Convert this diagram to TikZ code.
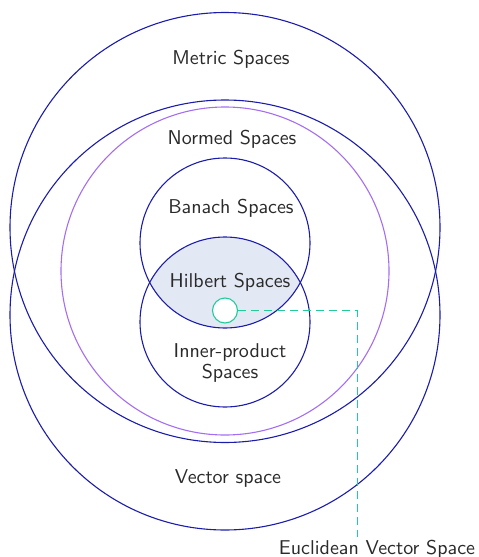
\documentclass[tikz,border=0pt]{standalone}
\usepackage{xcolor}
\definecolor{ringblue}{HTML}{1C1CAA}
\definecolor{ringviolet}{HTML}{A56EF2}
\definecolor{hilbertfill}{HTML}{E3E9F4}
\definecolor{eucl}{HTML}{22CC99}
\definecolor{txt}{HTML}{2A2A2A}
\begin{document}
\begin{tikzpicture}[x=0.5pt,y=-0.5pt,
  ring/.style={circle, draw=ringblue, line width=0.55pt, inner sep=0pt, minimum size=#1},
  vring/.style={circle, draw=ringviolet, line width=0.55pt, inner sep=0pt, minimum size=#1},
  lbl/.style={font=\sffamily, text=txt, align=center, inner sep=1pt},
  link/.style={draw=eucl, dashed, dash pattern=on 4pt off 2.5pt, line width=0.5pt}]
\useasboundingbox (0,0) rectangle (478,557);
% Hilbert spaces: overlap of the Banach and inner-product discs
\begin{scope}
  \clip (225,243) circle [radius=42.5pt];
  \fill[hilbertfill] (225,322) circle [radius=42.5pt];
\end{scope}
\node[ring=215pt] (metric) at (225,227.5) {};
\node[ring=215pt] (vector) at (225,315) {};
\node[vring=164pt] (normed) at (225,271) {};
\node[ring=85pt] (banach) at (225,243) {};
\node[ring=85pt] (inner) at (225,322) {};
\node[circle, draw=eucl, fill=white, line width=0.55pt, inner sep=0pt, minimum size=12.5pt] (eucl) at (225,310.5) {};
% labels
\node[lbl] (lmetric) at (231,59) {Metric Spaces};
\node[lbl] (lnormed) at (232,139) {Normed Spaces};
\node[lbl] (lbanach) at (231,208) {Banach Spaces};
\node[lbl] (lhilbert) at (230,282) {Hilbert Spaces};
\node[lbl] (linner) at (230,362.5) {Inner-product\\[-1.5pt]Spaces};
\node[lbl] (lvector) at (228,478) {Vector space};
\node[lbl, anchor=north] (leucl) at (377,537.5) {Euclidean Vector Space};
% connector to the Euclidean label
\coordinate (bend) at (357,310.5);
\coordinate (drop) at (357,537);
\draw[link] (eucl.east) -- (bend) -- (drop);
\end{tikzpicture}
\end{document}
